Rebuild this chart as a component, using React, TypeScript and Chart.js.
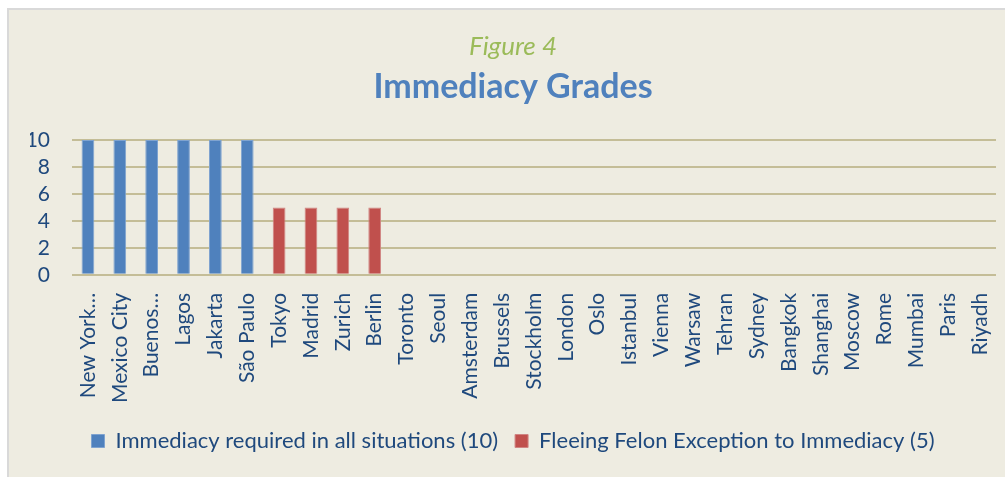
import React, { useEffect, useRef } from "react";
import { Chart, registerables } from "chart.js";

Chart.register(...registerables);

const cities = [
  "New York…", "Mexico City", "Buenos…", "Lagos", "Jakarta", "São Paulo",
  "Tokyo", "Madrid", "Zurich", "Berlin", "Toronto", "Seoul", "Amsterdam",
  "Brussels", "Stockholm", "London", "Oslo", "Istanbul", "Vienna", "Warsaw",
  "Tehran", "Sydney", "Bangkok", "Shanghai", "Moscow", "Rome", "Mumbai",
  "Paris", "Riyadh",
];
const immediacyAll = [10, 10, 10, 10, 10, 10, null, null, null, null, null, null, null, null, null, null, null, null, null, null, null, null, null, null, null, null, null, null, null];
const fleeingFelon = [null, null, null, null, null, null, 5, 5, 5, 5, null, null, null, null, null, null, null, null, null, null, null, null, null, null, null, null, null, null, null];
const yTicks = [0, 2, 4, 6, 8, 10];

const TEXT = "#1F497D";
const FONT = "Lato, 'Open Sans', sans-serif";

export default function App() {
  const ref = useRef<HTMLCanvasElement>(null);
  useEffect(() => {
    document.body.style.margin = "0";
    document.body.style.overflow = "hidden";
    const chart = new Chart(ref.current!, {
      type: "bar",
      data: {
        labels: cities,
        datasets: [
          {
            label: "Immediacy required in all situations (10)",
            data: immediacyAll,
            backgroundColor: "#4F81BD",
            borderColor: "#7FA3D0",
            borderWidth: 1,
            barPercentage: 0.8,
            categoryPercentage: 0.5,
            grouped: false,
          },
          {
            label: "Fleeing Felon Exception to Immediacy (5)",
            data: fleeingFelon,
            backgroundColor: "#C0504D",
            borderColor: "#D08482",
            borderWidth: 1,
            barPercentage: 0.8,
            categoryPercentage: 0.5,
            grouped: false,
          },
        ],
      },
      options: {
        animation: false,
        responsive: false,
        maintainAspectRatio: false,
        layout: { padding: { left: 21, right: 23, top: 21, bottom: 26 } },
        plugins: {
          title: {
            display: true,
            text: "Figure 4",
            color: "#9BBB59",
            font: { family: FONT, size: 26, style: "italic", weight: "normal" },
            padding: { top: 0, bottom: 4 },
          },
          subtitle: {
            display: true,
            text: "Immediacy Grades",
            color: "#4F81BD",
            font: { family: FONT, size: 34, weight: "bold" },
            padding: { top: 0, bottom: 33 },
          },
          legend: {
            position: "bottom",
            labels: {
              color: TEXT,
              font: { family: FONT, size: 22 },
              boxWidth: 13,
              boxHeight: 13,
              padding: 17,
            },
          },
          tooltip: { enabled: false },
        },
        scales: {
          x: {
            grid: { display: false },
            border: { display: false },
            ticks: {
              color: TEXT,
              font: { family: FONT, size: 21 },
              minRotation: 90,
              maxRotation: 90,
              autoSkip: false,
              padding: 10,
            },
          },
          y: {
            min: 0,
            max: 10,
            afterBuildTicks: (axis: any) => {
              axis.ticks = yTicks.map((v) => ({ value: v }));
            },
            afterFit: (axis: any) => {
              axis.width = 42;
            },
            grid: { color: "#C4BD97", lineWidth: 2, drawTicks: false },
            border: { display: false },
            ticks: {
              color: TEXT,
              font: { family: FONT, size: 21 },
              padding: 22,
              autoSkip: false,
            },
          },
        },
      },
    });
    return () => chart.destroy();
  }, []);
  return (
    <div style={{ position: "fixed", left: 0, top: 0, width: 1005, height: 477, overflow: "hidden", background: "#fff" }}>
      <div
        style={{
          position: "absolute",
          left: 7,
          top: 8,
          width: 1012,
          height: 480,
          background: "#EEECE1",
          borderLeft: "2px solid #D9D9D9",
          borderTop: "2px solid #D9D9D9",
        }}
      >
        <canvas ref={ref} width={1010} height={478} style={{ display: "block" }} />
      </div>
    </div>
  );
}
